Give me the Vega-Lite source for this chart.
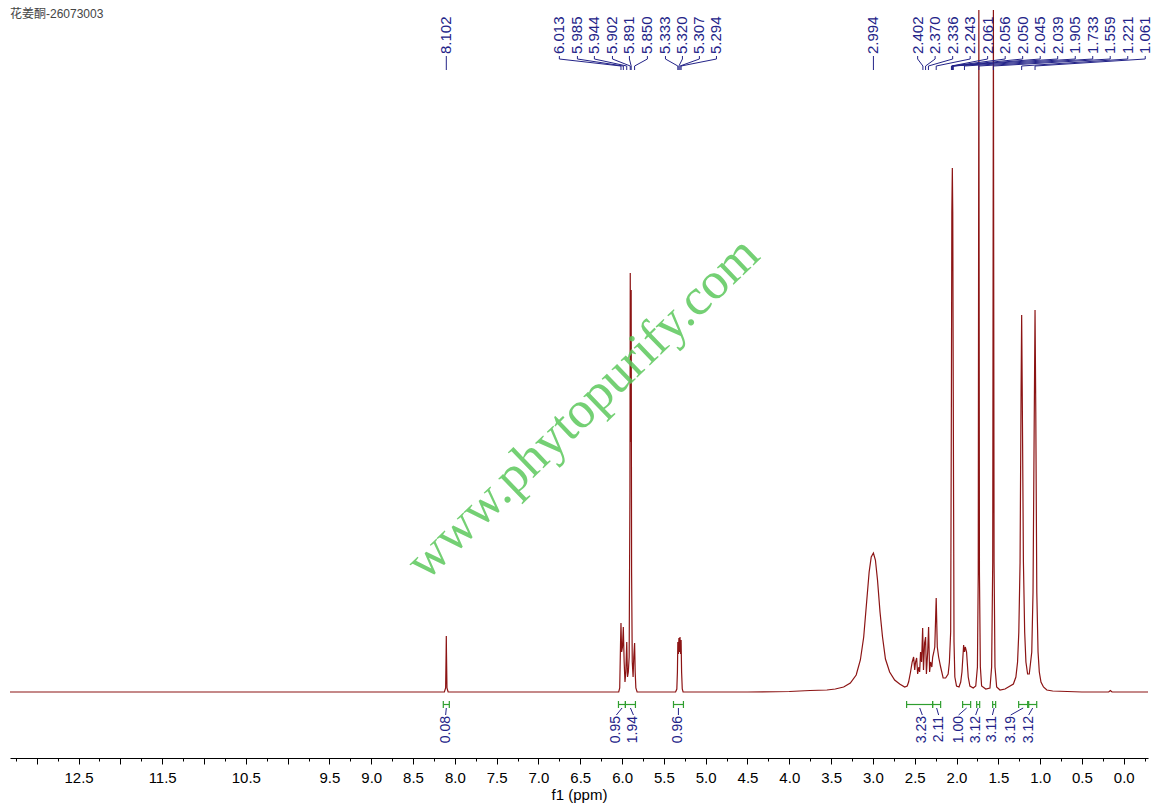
{
  "$schema": "https://vega.github.io/schema/vega-lite/v6.json",
  "autosize": {"type": "none"},
  "width": 1138,
  "height": 758,
  "padding": {"left": 10, "right": 10, "top": 0, "bottom": 53},
  "background": "white",
  "title": {"text": "花姜酮-26073003", "anchor": "start", "frame": "group", "orient": "top", "baseline": "top", "offset": -21, "fontSize": 12, "fontWeight": "normal", "font": "Liberation Sans, Noto Sans CJK SC", "color": "#444444"},
  "config": {"view": {"stroke": null}},
  "resolve": {"axis": {"x": "independent"}},
  "datasets": {
    "spectrum": [
      {"ppm": 13.32, "v": 0}, {"ppm": 8.2, "v": 0}, {"ppm": 8.125, "v": 0}, {"ppm": 8.11, "v": 4}, {"ppm": 8.104, "v": 40}, {"ppm": 8.102, "v": 56}, {"ppm": 8.1, "v": 40}, {"ppm": 8.094, "v": 4}, {"ppm": 8.08, "v": 0},
      {"ppm": 6.1, "v": 0}, {"ppm": 6.04, "v": 0}, {"ppm": 6.028, "v": 4}, {"ppm": 6.018, "v": 50}, {"ppm": 6.013, "v": 69}, {"ppm": 6.005, "v": 40}, {"ppm": 5.995, "v": 45}, {"ppm": 5.985, "v": 65}, {"ppm": 5.975, "v": 30}, {"ppm": 5.965, "v": 10}, {"ppm": 5.955, "v": 20}, {"ppm": 5.944, "v": 50}, {"ppm": 5.935, "v": 15}, {"ppm": 5.925, "v": 20}, {"ppm": 5.915, "v": 35}, {"ppm": 5.906, "v": 200}, {"ppm": 5.902, "v": 419}, {"ppm": 5.897, "v": 250}, {"ppm": 5.891, "v": 402}, {"ppm": 5.886, "v": 120}, {"ppm": 5.878, "v": 30}, {"ppm": 5.868, "v": 15}, {"ppm": 5.86, "v": 35}, {"ppm": 5.85, "v": 49}, {"ppm": 5.843, "v": 20}, {"ppm": 5.835, "v": 4}, {"ppm": 5.82, "v": 0},
      {"ppm": 5.36, "v": 0}, {"ppm": 5.345, "v": 3}, {"ppm": 5.338, "v": 20}, {"ppm": 5.333, "v": 50}, {"ppm": 5.326, "v": 38}, {"ppm": 5.32, "v": 54}, {"ppm": 5.313, "v": 40}, {"ppm": 5.307, "v": 55}, {"ppm": 5.3, "v": 38}, {"ppm": 5.294, "v": 52}, {"ppm": 5.288, "v": 20}, {"ppm": 5.28, "v": 3}, {"ppm": 5.27, "v": 0},
      {"ppm": 4.5, "v": 0}, {"ppm": 4.0, "v": 0.5}, {"ppm": 3.75, "v": 1.5}, {"ppm": 3.55, "v": 2}, {"ppm": 3.45, "v": 3}, {"ppm": 3.35, "v": 5}, {"ppm": 3.27, "v": 9}, {"ppm": 3.2, "v": 17}, {"ppm": 3.15, "v": 32}, {"ppm": 3.11, "v": 55}, {"ppm": 3.075, "v": 90}, {"ppm": 3.045, "v": 120}, {"ppm": 3.02, "v": 135}, {"ppm": 2.994, "v": 139}, {"ppm": 2.97, "v": 132}, {"ppm": 2.945, "v": 112}, {"ppm": 2.915, "v": 80}, {"ppm": 2.885, "v": 55}, {"ppm": 2.85, "v": 33}, {"ppm": 2.8, "v": 20}, {"ppm": 2.74, "v": 12}, {"ppm": 2.68, "v": 8}, {"ppm": 2.62, "v": 5}, {"ppm": 2.59, "v": 6},
      {"ppm": 2.573, "v": 10}, {"ppm": 2.55, "v": 20}, {"ppm": 2.53, "v": 30}, {"ppm": 2.513, "v": 35}, {"ppm": 2.5, "v": 22}, {"ppm": 2.49, "v": 30}, {"ppm": 2.477, "v": 34}, {"ppm": 2.465, "v": 18}, {"ppm": 2.45, "v": 25}, {"ppm": 2.441, "v": 20}, {"ppm": 2.43, "v": 40}, {"ppm": 2.418, "v": 30}, {"ppm": 2.405, "v": 64}, {"ppm": 2.395, "v": 22}, {"ppm": 2.382, "v": 49}, {"ppm": 2.37, "v": 55}, {"ppm": 2.36, "v": 18}, {"ppm": 2.345, "v": 40}, {"ppm": 2.334, "v": 65}, {"ppm": 2.322, "v": 20}, {"ppm": 2.31, "v": 30}, {"ppm": 2.295, "v": 25}, {"ppm": 2.285, "v": 35}, {"ppm": 2.274, "v": 39}, {"ppm": 2.26, "v": 45}, {"ppm": 2.243, "v": 94}, {"ppm": 2.23, "v": 45}, {"ppm": 2.214, "v": 35}, {"ppm": 2.19, "v": 25}, {"ppm": 2.16, "v": 14}, {"ppm": 2.13, "v": 14}, {"ppm": 2.1, "v": 18}, {"ppm": 2.085, "v": 30}, {"ppm": 2.07, "v": 60}, {"ppm": 2.061, "v": 300}, {"ppm": 2.056, "v": 480}, {"ppm": 2.05, "v": 524}, {"ppm": 2.045, "v": 480}, {"ppm": 2.039, "v": 300}, {"ppm": 2.03, "v": 50}, {"ppm": 2.02, "v": 15}, {"ppm": 2.0, "v": 6},
      {"ppm": 1.97, "v": 5}, {"ppm": 1.95, "v": 10}, {"ppm": 1.935, "v": 20}, {"ppm": 1.915, "v": 47}, {"ppm": 1.905, "v": 40}, {"ppm": 1.895, "v": 45}, {"ppm": 1.88, "v": 40}, {"ppm": 1.86, "v": 15}, {"ppm": 1.84, "v": 6}, {"ppm": 1.8, "v": 4}, {"ppm": 1.77, "v": 6}, {"ppm": 1.75, "v": 25}, {"ppm": 1.74, "v": 120}, {"ppm": 1.733, "v": 682}, {"ppm": 1.726, "v": 120}, {"ppm": 1.715, "v": 25}, {"ppm": 1.7, "v": 6}, {"ppm": 1.65, "v": 3}, {"ppm": 1.6, "v": 4}, {"ppm": 1.58, "v": 25}, {"ppm": 1.567, "v": 130}, {"ppm": 1.559, "v": 682}, {"ppm": 1.551, "v": 130}, {"ppm": 1.54, "v": 25}, {"ppm": 1.52, "v": 5}, {"ppm": 1.48, "v": 2}, {"ppm": 1.42, "v": 3}, {"ppm": 1.38, "v": 5}, {"ppm": 1.32, "v": 8}, {"ppm": 1.29, "v": 15}, {"ppm": 1.27, "v": 30}, {"ppm": 1.255, "v": 60}, {"ppm": 1.24, "v": 130}, {"ppm": 1.228, "v": 300}, {"ppm": 1.221, "v": 377}, {"ppm": 1.214, "v": 300}, {"ppm": 1.2, "v": 130}, {"ppm": 1.185, "v": 60}, {"ppm": 1.17, "v": 30}, {"ppm": 1.15, "v": 18}, {"ppm": 1.13, "v": 18}, {"ppm": 1.1, "v": 40}, {"ppm": 1.085, "v": 100}, {"ppm": 1.07, "v": 280}, {"ppm": 1.061, "v": 382}, {"ppm": 1.052, "v": 280}, {"ppm": 1.04, "v": 100}, {"ppm": 1.025, "v": 40}, {"ppm": 1.01, "v": 20}, {"ppm": 0.99, "v": 10}, {"ppm": 0.96, "v": 5}, {"ppm": 0.92, "v": 2}, {"ppm": 0.85, "v": 1}, {"ppm": 0.5, "v": 0}, {"ppm": 0.18, "v": 0}, {"ppm": 0.16, "v": 1.5}, {"ppm": 0.14, "v": 0}, {"ppm": -0.29, "v": 0}
    ],
    "peaks": [
      {"t": "8.102", "lx": 8.102, "p": 8.102},
      {"t": "6.013", "lx": 6.75, "p": 6.013},
      {"t": "5.985", "lx": 6.534, "p": 5.985},
      {"t": "5.944", "lx": 6.331, "p": 5.944},
      {"t": "5.902", "lx": 6.115, "p": 5.902},
      {"t": "5.891", "lx": 5.912, "p": 5.891},
      {"t": "5.850", "lx": 5.697, "p": 5.85},
      {"t": "5.333", "lx": 5.481, "p": 5.333},
      {"t": "5.320", "lx": 5.278, "p": 5.32},
      {"t": "5.307", "lx": 5.075, "p": 5.307},
      {"t": "5.294", "lx": 4.871, "p": 5.294},
      {"t": "2.994", "lx": 2.994, "p": 2.994},
      {"t": "2.402", "lx": 2.465, "p": 2.402},
      {"t": "2.370", "lx": 2.256, "p": 2.37},
      {"t": "2.336", "lx": 2.046, "p": 2.336},
      {"t": "2.243", "lx": 1.837, "p": 2.243},
      {"t": "2.061", "lx": 1.628, "p": 2.061},
      {"t": "2.056", "lx": 1.418, "p": 2.056},
      {"t": "2.050", "lx": 1.209, "p": 2.05},
      {"t": "2.045", "lx": 0.999, "p": 2.045},
      {"t": "2.039", "lx": 0.79, "p": 2.039},
      {"t": "1.905", "lx": 0.58, "p": 1.905},
      {"t": "1.733", "lx": 0.371, "p": 1.733},
      {"t": "1.559", "lx": 0.162, "p": 1.559},
      {"t": "1.221", "lx": -0.048, "p": 1.221},
      {"t": "1.061", "lx": -0.257, "p": 1.061}
    ],
    "integrals": [
      {"val": "0.08", "from": 8.138, "to": 8.066, "lx": 8.11, "mid": 8.102},
      {"val": "0.95", "from": 6.043, "to": 5.96, "lx": 6.068, "mid": 6.0},
      {"val": "1.94", "from": 5.96, "to": 5.84, "lx": 5.864, "mid": 5.9},
      {"val": "0.96", "from": 5.385, "to": 5.266, "lx": 5.326, "mid": 5.326},
      {"val": "3.23", "from": 2.597, "to": 2.286, "lx": 2.409, "mid": 2.44},
      {"val": "2.11", "from": 2.286, "to": 2.19, "lx": 2.214, "mid": 2.238},
      {"val": "1.00", "from": 1.927, "to": 1.831, "lx": 1.975, "mid": 1.879},
      {"val": "3.12", "from": 1.759, "to": 1.723, "lx": 1.771, "mid": 1.741},
      {"val": "3.11", "from": 1.568, "to": 1.532, "lx": 1.571, "mid": 1.55},
      {"val": "3.19", "from": 1.257, "to": 1.149, "lx": 1.352, "mid": 1.203},
      {"val": "3.12", "from": 1.137, "to": 1.041, "lx": 1.137, "mid": 1.089}
    ]
  },
  "layer": [
    {
      "data": {"name": "spectrum"},
      "mark": {"type": "line", "color": "#8c1414", "strokeWidth": 1.2, "interpolate": "linear"},
      "encoding": {
        "x": {"field": "ppm", "type": "quantitative", "title": "f1 (ppm)",
          "scale": {"domain": [-0.29, 13.32], "reverse": true, "nice": false, "zero": false},
          "axis": {
            "orient": "bottom",
            "values": [0, 0.5, 1, 1.5, 2, 2.5, 3, 3.5, 4, 4.5, 5, 5.5, 6, 6.5, 7, 7.5, 8, 8.5, 9, 9.5, 10, 10.5, 11, 11.5, 12, 12.5, 13],
            "labelExpr": "indexof([10, 11, 12, 13], datum.value) >= 0 ? '' : format(datum.value, '.1f')",
            "tickSize": 6,
            "grid": false, "domainColor": "#000000", "tickColor": "#000000", "tickWidth": 1, "domainWidth": 1,
            "labelColor": "#000000", "labelFont": "Liberation Sans", "labelFontSize": 15, "labelPadding": 6,
            "labelOverlap": false, "labelFlush": false,
            "titleColor": "#000000", "titleFont": "Liberation Sans", "titleFontSize": 15, "titleFontWeight": "normal", "titlePadding": 2
          }
        },
        "y": {"field": "v", "type": "quantitative", "axis": null, "scale": {"domain": [-66, 692], "nice": false, "zero": false}}
      }
    },
    {
      "data": {"name": "peaks"},
      "mark": {"type": "text", "angle": 270, "align": "left", "baseline": "middle", "font": "Liberation Sans", "fontSize": 15, "color": "#232388"},
      "encoding": {
        "x": {"field": "lx", "type": "quantitative",
          "axis": {
            "orient": "bottom", "title": null, "labels": false, "domain": false, "grid": false,
            "values": [-0.25, 0.25, 0.75, 1.25, 1.75, 2.25, 2.75, 3.25, 3.75, 4.25, 4.75, 5.25, 5.75, 6.25, 6.75, 7.25, 7.75, 8.25, 8.75, 9.25, 9.75, 10.25, 10.75, 11.25, 11.75, 12.25, 12.75, 13.25],
            "tickSize": 3, "tickColor": "#000000", "tickWidth": 1
          }
        },
        "y": {"datum": 638, "type": "quantitative"},
        "text": {"field": "t"}
      }
    },
    {
      "data": {"name": "peaks"},
      "mark": {"type": "rule", "color": "#232388", "strokeWidth": 1},
      "encoding": {
        "x": {"field": "lx", "type": "quantitative", "axis": null},
        "y": {"datum": 636, "type": "quantitative"},
        "y2": {"datum": 633}
      }
    },
    {
      "data": {"name": "peaks"},
      "mark": {"type": "rule", "color": "#232388", "strokeWidth": 1},
      "encoding": {
        "x": {"field": "lx", "type": "quantitative", "axis": null},
        "x2": {"field": "p"},
        "y": {"datum": 633, "type": "quantitative"},
        "y2": {"datum": 626}
      }
    },
    {
      "data": {"name": "peaks"},
      "mark": {"type": "rule", "color": "#232388", "strokeWidth": 1},
      "encoding": {
        "x": {"field": "p", "type": "quantitative", "axis": null},
        "y": {"datum": 626, "type": "quantitative"},
        "y2": {"datum": 622}
      }
    },
    {
      "data": {"name": "integrals"},
      "mark": {"type": "rule", "color": "#2f9e2f", "strokeWidth": 1.2},
      "encoding": {
        "x": {"field": "from", "type": "quantitative", "axis": null},
        "x2": {"field": "to"},
        "y": {"datum": -12.5, "type": "quantitative"}
      }
    },
    {
      "data": {"name": "integrals"},
      "mark": {"type": "rule", "color": "#2f9e2f", "strokeWidth": 1.2},
      "encoding": {
        "x": {"field": "from", "type": "quantitative", "axis": null},
        "y": {"datum": -9, "type": "quantitative"},
        "y2": {"datum": -16}
      }
    },
    {
      "data": {"name": "integrals"},
      "mark": {"type": "rule", "color": "#2f9e2f", "strokeWidth": 1.2},
      "encoding": {
        "x": {"field": "to", "type": "quantitative", "axis": null},
        "y": {"datum": -9, "type": "quantitative"},
        "y2": {"datum": -16}
      }
    },
    {
      "data": {"name": "integrals"},
      "mark": {"type": "rule", "color": "#232388", "strokeWidth": 1},
      "encoding": {
        "x": {"field": "lx", "type": "quantitative", "axis": null},
        "x2": {"field": "mid"},
        "y": {"datum": -23, "type": "quantitative"},
        "y2": {"datum": -16}
      }
    },
    {
      "data": {"name": "integrals"},
      "mark": {"type": "text", "angle": 270, "align": "right", "baseline": "middle", "font": "Liberation Sans", "fontSize": 14, "color": "#232388"},
      "encoding": {
        "x": {"field": "lx", "type": "quantitative", "axis": null},
        "y": {"datum": -24, "type": "quantitative"},
        "text": {"field": "val"}
      }
    },
    {
      "data": {"values": [{"site": "www.phytopurify.com"}]},
      "mark": {"type": "text", "angle": 316, "align": "center", "baseline": "middle", "font": "Liberation Serif", "fontSize": 52, "color": "#5cc85c", "opacity": 0.85},
      "encoding": {
        "x": {"datum": 6.47, "type": "quantitative", "axis": null},
        "y": {"datum": 284, "type": "quantitative"},
        "text": {"field": "site"}
      }
    }
  ]
}
